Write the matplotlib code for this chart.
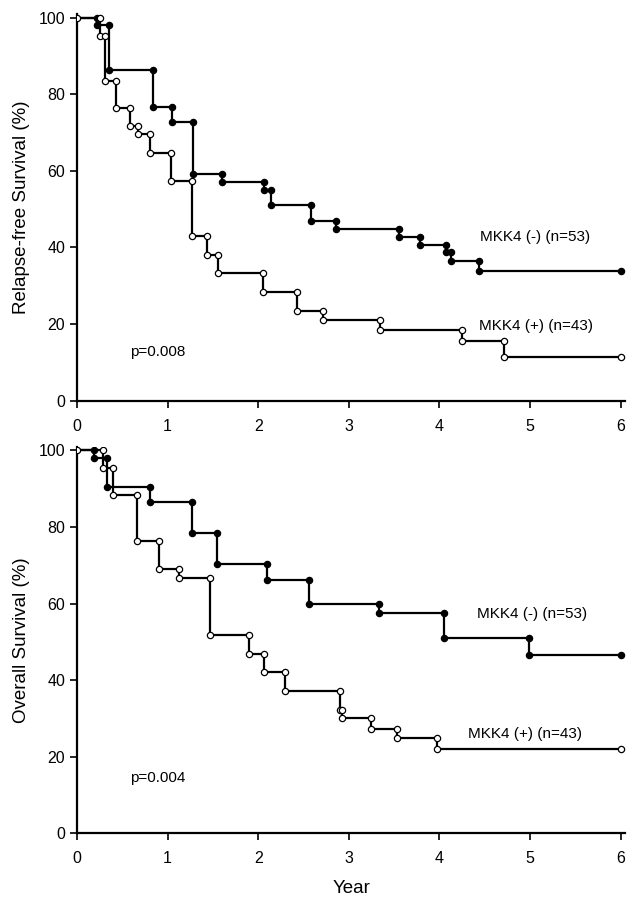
import matplotlib
matplotlib.use("Agg")
import matplotlib.pyplot as plt

plt.rcParams['font.family'] = ['Liberation Sans', 'DejaVu Sans']

# Relapse-free survival (top panel): event times (years) and survival levels (%)
rfs_neg_t = [0.215, 0.354, 0.836, 1.044, 1.285, 1.60, 2.06, 2.14, 2.58, 2.855, 3.556, 3.786, 4.07, 4.13, 4.44]
rfs_neg_s = [100, 98.1, 86.4, 76.6, 72.8, 59.1, 57.2, 55.0, 51.1, 46.9, 44.9, 42.8, 40.6, 38.9, 36.5, 33.9]
rfs_pos_t = [0.25, 0.31, 0.435, 0.584, 0.672, 0.81, 1.033, 1.27, 1.438, 1.552, 2.05, 2.43, 2.72, 3.34, 4.25, 4.71]
rfs_pos_s = [100, 95.3, 83.5, 76.5, 71.8, 69.7, 64.7, 57.3, 42.9, 38.1, 33.2, 28.3, 23.4, 21.0, 18.5, 15.5, 11.4]

# Overall survival (bottom panel)
os_neg_t = [0.19, 0.33, 0.807, 1.267, 1.548, 2.095, 2.563, 3.33, 4.05, 4.99]
os_neg_s = [100, 98.0, 90.5, 86.5, 78.5, 70.3, 66.3, 59.9, 57.6, 50.9, 46.7]
os_pos_t = [0.29, 0.40, 0.66, 0.91, 1.128, 1.468, 1.895, 2.067, 2.30, 2.90, 2.92, 3.24, 3.53, 3.97]
os_pos_s = [100, 95.4, 88.4, 76.3, 69.0, 66.6, 51.9, 46.9, 42.2, 37.2, 32.3, 30.0, 27.3, 24.8, 22.0]

t_end = 6.0
lab_neg = "MKK4 (-) (n=53)"
lab_pos = "MKK4 (+) (n=43)"


def km(ax, t, s, face, start_marker):
    xs = [0] + t + [t_end]
    ys = s + [s[-1]]
    ax.step(xs, ys, where='post', color='black', lw=1.6, zorder=2)
    mx, my = [], []
    for i in range(len(t)):
        mx += [t[i], t[i]]
        my += [s[i], s[i + 1]]
    mx.append(t_end)
    my.append(s[-1])
    if start_marker:
        mx.append(0)
        my.append(100)
    ax.plot(mx, my, ls='none', marker='o', ms=4.5, mfc=face, mec='black', mew=0.9, zorder=3)


def style(ax, ylabel):
    ax.set_xlim(0, 6.05)
    ax.set_ylim(0, 101)
    ax.set_xticks(range(0, 7))
    ax.set_yticks(range(0, 101, 20))
    ax.spines['top'].set_visible(False)
    ax.spines['right'].set_visible(False)
    ax.spines['left'].set_linewidth(1.6)
    ax.spines['bottom'].set_linewidth(1.6)
    ax.tick_params(direction='out', length=5, width=1.2, labelsize=11.5)
    ax.tick_params(axis='x', pad=8)
    ax.set_ylabel(ylabel, fontsize=13.5, labelpad=6)


fig = plt.figure(figsize=(6.34, 9), dpi=100)
ax1 = fig.add_axes([0.1215, 0.5548, 0.8645, 0.430])
ax2 = fig.add_axes([0.1215, 0.0741, 0.8645, 0.4296])

km(ax1, rfs_neg_t, rfs_neg_s, 'black', False)
km(ax1, rfs_pos_t, rfs_pos_s, 'white', True)
style(ax1, "Relapse-free Survival (%)")
ax1.text(4.45, 42.8, lab_neg, fontsize=11, va='center')
ax1.text(4.44, 19.5, lab_pos, fontsize=11, va='center')
ax1.text(0.58, 12.7, "p=0.008", fontsize=11, va='center')

km(ax2, os_neg_t, os_neg_s, 'black', False)
km(ax2, os_pos_t, os_pos_s, 'white', True)
style(ax2, "Overall Survival (%)")
ax2.text(4.41, 57.3, lab_neg, fontsize=11, va='center')
ax2.text(4.32, 26.0, lab_pos, fontsize=11, va='center')
ax2.text(0.58, 14.4, "p=0.004", fontsize=11, va='center')
ax2.set_xlabel("Year", fontsize=13.5, labelpad=10)

fig.savefig("out.png", dpi=100)
